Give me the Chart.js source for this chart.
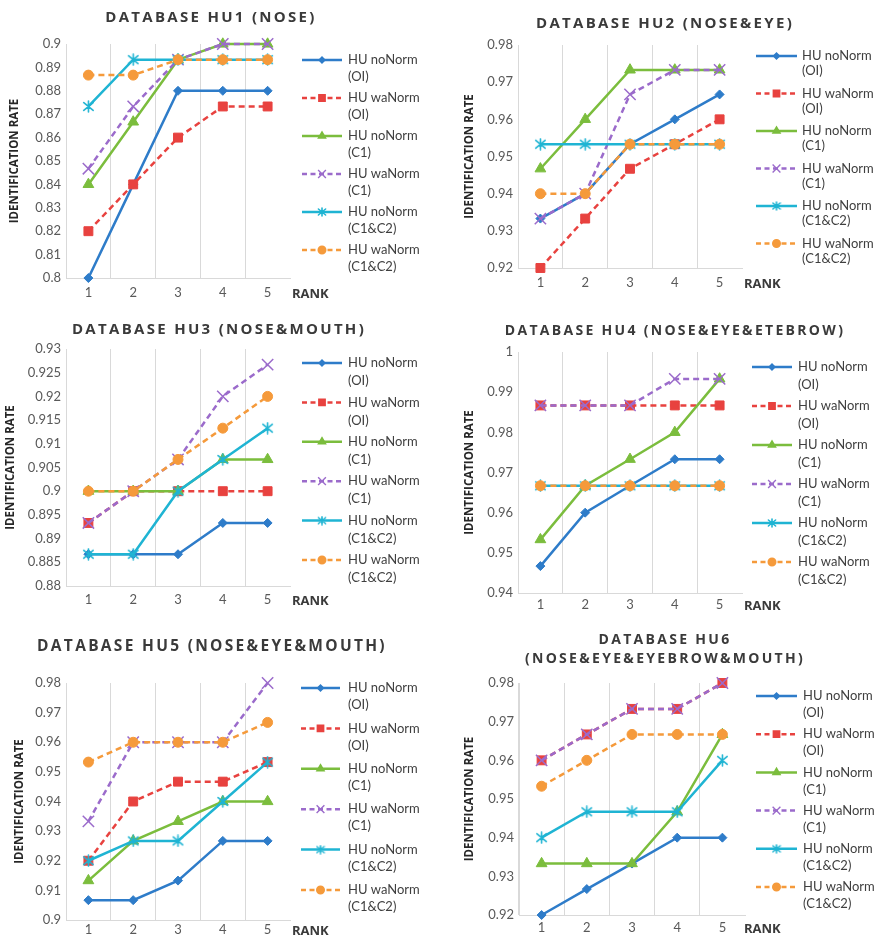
<!DOCTYPE html>
<html>
<head>
<meta charset="utf-8">
<script src="https://cdn.jsdelivr.net/npm/chart.js@4.4.1/dist/chart.umd.min.js"></script>
<style>
  html, body { margin: 0; padding: 0; background: #fff; }
  #page { position: relative; width: 876px; height: 939px; overflow: hidden; background: #fff; }
  .panel { position: absolute; }
  .panel canvas { display: block; }
  .ttl { position: absolute; transform: translate(-50%, -50%); white-space: nowrap; text-align: center;
         font-family: 'Open Sans', sans-serif; font-weight: 700; color: #3a3a3a; letter-spacing: 2.3px; line-height: 19px; }
  .rank { position: absolute; transform: translateY(-50%); font-family: 'Open Sans', sans-serif;
          font-weight: 700; font-size: 13px; color: #3a3a3a; }
</style>
</head>
<body>
<div id="page"></div>
<script>
// ---- data ---------------------------------------------------------------
const ranks = ['1', '2', '3', '4', '5'];

const seriesLabels = [
  ['HU noNorm', '(OI)'],
  ['HU waNorm', '(OI)'],
  ['HU noNorm', '(C1)'],
  ['HU waNorm', '(C1)'],
  ['HU noNorm', '(C1&C2)'],
  ['HU waNorm', '(C1&C2)']
];

const chartTitles = [
  ['DATABASE HU1 (NOSE)'],
  ['DATABASE HU2 (NOSE&EYE)'],
  ['DATABASE HU3 (NOSE&MOUTH)'],
  ['DATABASE HU4 (NOSE&EYE&ETEBROW)'],
  ['DATABASE HU5 (NOSE&EYE&MOUTH)'],
  ['DATABASE HU6', '(NOSE&EYE&EYEBROW&MOUTH)']
];

// y axis: [min, max, step]
const hu1Axis = [0.80, 0.90, 0.01];
const hu2Axis = [0.92, 0.98, 0.01];
const hu3Axis = [0.88, 0.93, 0.005];
const hu4Axis = [0.94, 1.00, 0.01];
const hu5Axis = [0.90, 0.98, 0.01];
const hu6Axis = [0.92, 0.98, 0.01];

// identification rate by rank, one row per series (same order as seriesLabels)
const hu1Rates = [
  [0.8000, 0.8400, 0.8800, 0.8800, 0.8800],
  [0.8200, 0.8400, 0.8600, 0.8733, 0.8733],
  [0.8400, 0.8667, 0.8933, 0.9000, 0.9000],
  [0.8467, 0.8733, 0.8933, 0.9000, 0.9000],
  [0.8733, 0.8933, 0.8933, 0.8933, 0.8933],
  [0.8867, 0.8867, 0.8933, 0.8933, 0.8933]
];
const hu2Rates = [
  [0.9333, 0.9400, 0.9533, 0.9600, 0.9667],
  [0.9200, 0.9333, 0.9467, 0.9533, 0.9600],
  [0.9467, 0.9600, 0.9733, 0.9733, 0.9733],
  [0.9333, 0.9400, 0.9667, 0.9733, 0.9733],
  [0.9533, 0.9533, 0.9533, 0.9533, 0.9533],
  [0.9400, 0.9400, 0.9533, 0.9533, 0.9533]
];
const hu3Rates = [
  [0.8867, 0.8867, 0.8867, 0.8933, 0.8933],
  [0.8933, 0.9000, 0.9000, 0.9000, 0.9000],
  [0.9000, 0.9000, 0.9000, 0.9067, 0.9067],
  [0.8933, 0.9000, 0.9067, 0.9200, 0.9267],
  [0.8867, 0.8867, 0.9000, 0.9067, 0.9133],
  [0.9000, 0.9000, 0.9067, 0.9133, 0.9200]
];
const hu4Rates = [
  [0.9467, 0.9600, 0.9667, 0.9733, 0.9733],
  [0.9867, 0.9867, 0.9867, 0.9867, 0.9867],
  [0.9533, 0.9667, 0.9733, 0.9800, 0.9933],
  [0.9867, 0.9867, 0.9867, 0.9933, 0.9933],
  [0.9667, 0.9667, 0.9667, 0.9667, 0.9667],
  [0.9667, 0.9667, 0.9667, 0.9667, 0.9667]
];
const hu5Rates = [
  [0.9067, 0.9067, 0.9133, 0.9267, 0.9267],
  [0.9200, 0.9400, 0.9467, 0.9467, 0.9533],
  [0.9133, 0.9267, 0.9333, 0.9400, 0.9400],
  [0.9333, 0.9600, 0.9600, 0.9600, 0.9800],
  [0.9200, 0.9267, 0.9267, 0.9400, 0.9533],
  [0.9533, 0.9600, 0.9600, 0.9600, 0.9667]
];
const hu6Rates = [
  [0.9200, 0.9267, 0.9333, 0.9400, 0.9400],
  [0.9600, 0.9667, 0.9733, 0.9733, 0.9800],
  [0.9333, 0.9333, 0.9333, 0.9467, 0.9667],
  [0.9600, 0.9667, 0.9733, 0.9733, 0.9800],
  [0.9400, 0.9467, 0.9467, 0.9467, 0.9600],
  [0.9533, 0.9600, 0.9667, 0.9667, 0.9667]
];

const panelRates = [hu1Rates, hu2Rates, hu3Rates, hu4Rates, hu5Rates, hu6Rates];
const panelAxes = [hu1Axis, hu2Axis, hu3Axis, hu4Axis, hu5Axis, hu6Axis];

// ---- styling ------------------------------------------------------------
const seriesColors = ['#2E7CC9', '#E8423F', '#7BBD3D', '#9B6BCB', '#1FB4D3', '#F59A3B'];
const seriesDashed = [false, true, false, true, false, true];
const seriesRadius = [4.5, 6.3, 6.2, 8, 6.5, 5];
const legendRadius = [3, 4.5, 4.2, 5.5, 4.5, 3.8];

// asterisk marker (vertical stroke plus an X)
function asteriskMarker(color, size) {
  const c = document.createElement('canvas');
  c.width = size; c.height = size;
  const g = c.getContext('2d');
  const m = size / 2;
  g.strokeStyle = color;
  g.lineWidth = 1.6;
  g.lineCap = 'round';
  g.beginPath();
  g.moveTo(m, 1); g.lineTo(m, size - 1);
  g.moveTo(m - size * 0.36, m - size * 0.3); g.lineTo(m + size * 0.36, m + size * 0.3);
  g.moveTo(m - size * 0.36, m + size * 0.3); g.lineTo(m + size * 0.36, m - size * 0.3);
  g.stroke();
  return c;
}
const starBig = asteriskMarker(seriesColors[4], 13);
const starSmall = asteriskMarker(seriesColors[4], 10);
const seriesStyles = ['rectRot', 'rect', 'triangle', 'crossRot', starBig, 'circle'];
const legendStyles = ['rectRot', 'rect', 'triangle', 'crossRot', starSmall, 'circle'];

// page layout of each panel (page pixels)
// box: [left, top, width, height]; area: plot area [left, top, right, bottom]
// title: [centerX, centerY, fontSize]; legend: [lineStart, lineEnd, textX, firstY, itemStep, lineGap]
const layouts = [
  { box: [0, 0, 438, 305],     area: [66, 44, 290, 278],   title: [211, 16, 15],   yTitleX: 15,  xTickGap: 15, rank: [292, 293], legend: [302, 342, 348, 60, 38, 17] },
  { box: [440, 0, 436, 305],   area: [518, 45, 742, 268],  title: [665, 22, 15],   yTitleX: 470, xTickGap: 15, rank: [744, 283], legend: [756, 797, 802, 56, 37.5, 15] },
  { box: [0, 305, 438, 310],   area: [66, 349, 290, 586],  title: [219, 328, 15],  yTitleX: 11,  xTickGap: 14, rank: [292, 600], legend: [302, 342, 348, 363, 39.4, 18] },
  { box: [440, 305, 436, 310], area: [518, 352, 742, 593], title: [675, 329, 14],  yTitleX: 470, xTickGap: 12, rank: [744, 605], legend: [752, 792, 798, 367, 39, 18] },
  { box: [0, 615, 438, 324],   area: [66, 683, 290, 920],  title: [212, 645, 15.5],yTitleX: 20,  xTickGap: 10, rank: [292, 930], legend: [301, 340, 348, 688, 40.4, 17] },
  { box: [440, 615, 436, 324], area: [519, 683, 745, 915], title: [665, 648, 14],  yTitleX: 470, xTickGap: 13, rank: [744, 928], legend: [756, 797, 803, 696, 38.2, 17] }
];

const tickFont = { family: "'Liberation Sans Narrow', Lato, sans-serif", size: 13 };
const gridGrey = '#D9D9D9';

Chart.defaults.font.family = "Lato, 'Open Sans', sans-serif";

// legend at the right: line sample with marker, two-line label
const sideLegend = {
  id: 'sideLegend',
  afterDraw(chart, args, opts) {
    const { ctx } = chart;
    const [x0, x1, tx, y0, step, gap] = opts.spec;
    chart.data.datasets.forEach((ds, i) => {
      const y = y0 + i * step;
      ctx.save();
      ctx.strokeStyle = ds.borderColor;
      ctx.lineWidth = 2.5;
      ctx.setLineDash(seriesDashed[i] ? [5, 3.5] : []);
      ctx.beginPath();
      ctx.moveTo(x0, y);
      ctx.lineTo(x1, y);
      ctx.stroke();
      ctx.setLineDash([]);
      ctx.fillStyle = ds.borderColor;
      ctx.strokeStyle = ds.borderColor;
      ctx.lineWidth = 1.4;
      Chart.helpers.drawPoint(ctx, { pointStyle: legendStyles[i], radius: legendRadius[i], rotation: 0, borderWidth: 1.4 }, (x0 + x1) / 2, y);
      ctx.fillStyle = '#3f3f3f';
      ctx.font = '13px Lato, sans-serif';
      ctx.textAlign = 'left';
      ctx.textBaseline = 'middle';
      ctx.fillText(seriesLabels[i][0], tx, y);
      ctx.fillText(seriesLabels[i][1], tx, y + gap);
      ctx.restore();
    });
  }
};

const page = document.getElementById('page');

layouts.forEach((lay, p) => {
  const [L, T, W, H] = lay.box;
  const [aL, aT, aR, aB] = lay.area;

  const wrap = document.createElement('div');
  wrap.className = 'panel';
  wrap.style.left = L + 'px';
  wrap.style.top = T + 'px';
  const canvas = document.createElement('canvas');
  canvas.width = W;
  canvas.height = H;
  canvas.style.width = W + 'px';
  canvas.style.height = H + 'px';
  wrap.appendChild(canvas);
  page.appendChild(wrap);

  const title = document.createElement('div');
  title.className = 'ttl';
  title.style.left = lay.title[0] + 'px';
  title.style.top = lay.title[1] + 'px';
  title.style.fontSize = lay.title[2] + 'px';
  chartTitles[p].forEach((line, k) => {
    if (k) title.appendChild(document.createElement('br'));
    title.appendChild(document.createTextNode(line));
  });
  page.appendChild(title);

  const rank = document.createElement('div');
  rank.className = 'rank';
  rank.style.left = lay.rank[0] + 'px';
  rank.style.top = lay.rank[1] + 'px';
  rank.textContent = 'RANK';
  page.appendChild(rank);

  const [yMin, yMax, yStep] = panelAxes[p];
  const lg = lay.legend;

  const datasets = panelRates[p].map((vals, i) => ({
    label: seriesLabels[i].join(' '),
    data: vals,
    borderColor: seriesColors[i],
    backgroundColor: seriesColors[i],
    borderWidth: 2.5,
    borderDash: seriesDashed[i] ? [6, 4] : [],
    pointStyle: seriesStyles[i],
    pointRadius: seriesRadius[i],
    pointHoverRadius: seriesRadius[i],
    pointBackgroundColor: seriesColors[i],
    pointBorderColor: seriesColors[i],
    pointBorderWidth: (i === 3 || i === 4) ? 1.5 : 1,
    tension: 0,
    clip: false,
    order: 6 - i
  }));

  new Chart(canvas, {
    type: 'line',
    data: { labels: ranks, datasets },
    plugins: [sideLegend],
    options: {
      responsive: false,
      animation: false,
      devicePixelRatio: 1,
      events: [],
      layout: { padding: { left: 0, top: aT - T, right: W - (aR - L), bottom: 0 } },
      plugins: {
        legend: { display: false },
        title: { display: false },
        tooltip: { enabled: false },
        sideLegend: { spec: [lg[0] - L, lg[1] - L, lg[2] - L, lg[3] - T, lg[4], lg[5]] }
      },
      scales: {
        x: {
          type: 'category',
          offset: true,
          afterFit: s => { s.height = (T + H) - aB; },
          grid: {
            display: true,
            offset: true,
            drawTicks: false,
            lineWidth: 1,
            color: c => (c.type === 'tick' ? gridGrey : 'rgba(0,0,0,0)')
          },
          border: { display: true, color: gridGrey, width: 1 },
          ticks: { font: tickFont, color: '#595959', padding: lay.xTickGap - 7.8, maxRotation: 0, autoSkip: false }
        },
        y: {
          type: 'linear',
          min: yMin,
          max: yMax,
          afterFit: s => { s.width = aL - L; },
          afterBuildTicks: s => {
            const n = Math.round((yMax - yMin) / yStep);
            const ticks = [];
            for (let k = 0; k <= n; k++) ticks.push({ value: +(yMin + k * yStep).toFixed(4) });
            s.ticks = ticks;
          },
          grid: { display: false, drawTicks: false },
          border: { display: true, color: gridGrey, width: 1 },
          ticks: {
            font: tickFont,
            color: '#595959',
            padding: 5,
            autoSkip: false,
            callback: v => String(+(+v).toFixed(3))
          },
          title: {
            display: true,
            text: 'IDENTIFICATION RATE',
            color: '#262626',
            font: { family: "'Open Sans', sans-serif", size: 11.5, weight: 'bold' },
            padding: { top: Math.max(0, lay.yTitleX - L - 6.9), bottom: 0 }
          }
        }
      }
    }
  });
});
</script>
</body>
</html>
